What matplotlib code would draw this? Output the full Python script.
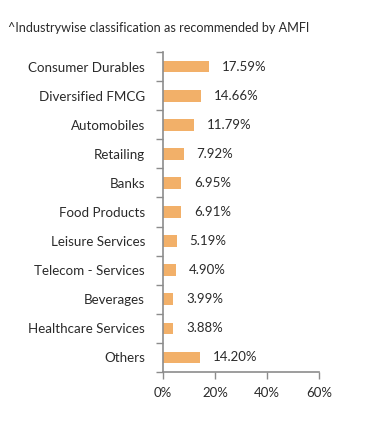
import matplotlib.pyplot as plt
import numpy as np

# データ
categories = ['Consumer Durables', 'Diversified FMCG', 'Automobiles', 'Retailing',
              'Banks', 'Food Products', 'Leisure Services', 'Telecom - Services',
              'Beverages', 'Healthcare Services', 'Others']
weights = [17.59, 14.66, 11.79, 7.92, 6.95, 6.91, 5.19, 4.90, 3.99, 3.88, 14.20]
xticks = [0, 20, 40, 60]
note = '^Industrywise classification as recommended by AMFI'

plt.rcParams['font.family'] = ['Lato', 'DejaVu Sans']
text_color = '#2a2a2a'
bar_color = '#F2B069'
axis_color = '#8c8c8c'

fig = plt.figure(figsize=(3.91, 4.34), dpi=100)
ax = fig.add_axes([0.417, 0.143, 0.399, 0.737])

y = np.arange(len(categories))
ax.barh(y, weights, height=0.4, color=bar_color)
for yi, w in zip(y, weights):
    ax.text(w + 5, yi, f'{w:.2f}%', va='center', ha='left', fontsize=9.5,
            color=text_color)

ax.set_ylim(len(categories) - 0.5, -0.5)
ax.set_xlim(0, 60)
ax.set_yticks(y)
ax.set_yticklabels(categories)
ax.set_yticks(np.arange(len(categories) + 1) - 0.5, minor=True)
ax.tick_params(axis='y', which='major', length=0, pad=13, labelsize=9.6, labelcolor=text_color)
ax.tick_params(axis='y', which='minor', length=5, color=axis_color, width=1)
ax.set_xticks(xticks)
ax.set_xticklabels([f'{t}%' for t in xticks])
ax.tick_params(axis='x', length=5, color=axis_color, width=1, pad=6,
               labelsize=9.5, labelcolor=text_color)

for s in ['top', 'right']:
    ax.spines[s].set_visible(False)
for s in ['left', 'bottom']:
    ax.spines[s].set_color(axis_color)
    ax.spines[s].set_linewidth(1.2)

fig.text(0.02, 0.935, note, fontsize=9.1, color=text_color, ha='left', va='center')

fig.savefig('out.png', dpi=100)
